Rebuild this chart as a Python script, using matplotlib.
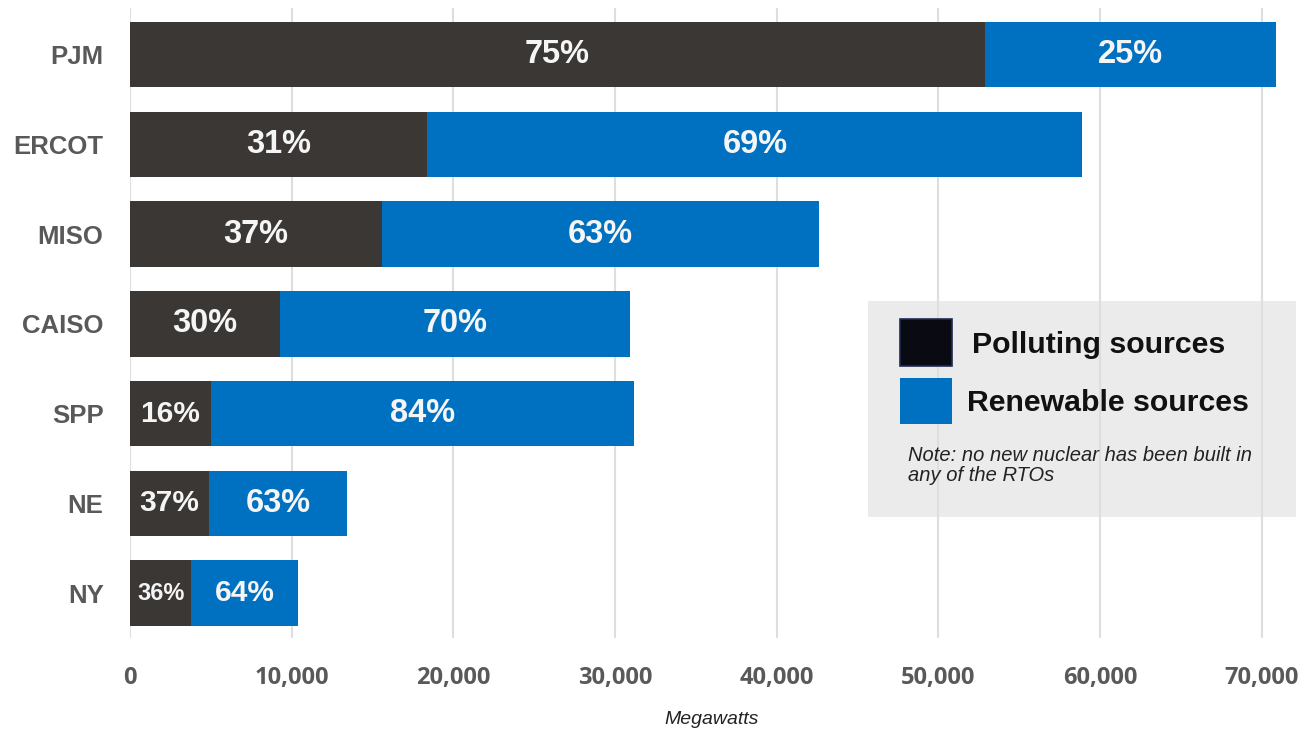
import matplotlib.pyplot as plt
import matplotlib.patches as patches
from matplotlib.ticker import FuncFormatter

# Data (megawatts).
regions = ['PJM', 'ERCOT', 'MISO', 'CAISO', 'SPP', 'NE', 'NY']
polluting = [52900, 18400, 15600, 9300, 5000, 4900, 3800]
renewable = [18000, 40500, 27000, 21600, 26200, 8500, 6600]
pct_polluting = ['75%', '31%', '37%', '30%', '16%', '37%', '36%']
pct_renewable = ['25%', '69%', '63%', '70%', '84%', '63%', '64%']
x_ticks = [0, 10000, 20000, 30000, 40000, 50000, 60000, 70000]

dark = '#3a3735'
blue = '#0070c0'
grey_text = '#595959'

fig = plt.figure(figsize=(13.01, 7.30), dpi=100)
ax = fig.add_axes([0.0999, 0.126, 0.8947, 0.863])

y = list(range(len(regions)))
ax.barh(y, polluting, height=0.73, color=dark, zorder=2)
ax.barh(y, renewable, left=polluting, height=0.73, color=blue, zorder=2)

# Percentage labels centred in each segment.
for i in y:
    p, r = polluting[i], renewable[i]
    size_p = 23.5 if p > 8000 else (17 if p < 4000 else 21.5)
    size_r = 23.5 if r > 8000 else 21.5
    ax.text(p / 2, i, pct_polluting[i], ha='center', va='center', color='#f5f5f5',
            fontsize=size_p, fontweight='bold', family='Liberation Sans', zorder=3)
    ax.text(p + r / 2, i, pct_renewable[i], ha='center', va='center', color='#f5f5f5',
            fontsize=size_r, fontweight='bold', family='Liberation Sans', zorder=3)

ax.set_ylim(6.5, -0.52)
ax.set_xlim(0, 72000)
ax.set_yticks(y)
ax.set_yticklabels(regions, fontsize=18.5, fontweight='bold', color=grey_text,
                   family='Liberation Sans')
ax.set_xticks(x_ticks)
ax.xaxis.set_major_formatter(FuncFormatter(lambda v, pos: f'{int(v):,}'))
for lab in ax.get_xticklabels():
    lab.set_fontsize(17)
    lab.set_fontweight('bold')
    lab.set_color(grey_text)
    lab.set_family('Open Sans')
ax.tick_params(axis='y', length=0, pad=19)
ax.tick_params(axis='x', length=0, pad=20)
ax.set_axisbelow(True)
ax.grid(axis='x', color='#dedede', linewidth=1.5)
ax.grid(axis='y', visible=False)
for s in ax.spines.values():
    s.set_visible(False)

ax.set_xlabel('Megawatts', fontsize=14, fontstyle='italic', color='#222222',
              family='Liberation Sans', labelpad=15)

# Legend box (grey panel behind the gridlines).
def ax_xy(px, py):
    return ((px - 130) / 1164.0, (638 - py) / 630.0)

x0, y0 = ax_xy(868, 517)
x1, y1 = ax_xy(1296, 301)
ax.add_patch(patches.Rectangle((x0, y0), x1 - x0, y1 - y0, transform=ax.transAxes,
                               facecolor='#ebebeb', edgecolor='none', zorder=0.2,
                               clip_on=False))
sx0, sy0 = ax_xy(900, 366)
sx1, sy1 = ax_xy(952, 319)
ax.add_patch(patches.Rectangle((sx0, sy0), sx1 - sx0, sy1 - sy0, transform=ax.transAxes,
                               facecolor='#0a0a12', edgecolor='#1f2a55', linewidth=1.2,
                               zorder=3))
sx0, sy0 = ax_xy(900, 424)
sx1, sy1 = ax_xy(952, 378)
ax.add_patch(patches.Rectangle((sx0, sy0), sx1 - sx0, sy1 - sy0, transform=ax.transAxes,
                               facecolor=blue, edgecolor='none', zorder=3))
tx, ty = ax_xy(972, 345)
ax.text(tx, ty, 'Polluting sources', transform=ax.transAxes, ha='left', va='center',
        fontsize=21.8, fontweight='bold', color='#111111', family='Liberation Sans', zorder=3)
tx, ty = ax_xy(967, 403)
ax.text(tx, ty, 'Renewable sources', transform=ax.transAxes, ha='left', va='center',
        fontsize=21.8, fontweight='bold', color='#111111', family='Liberation Sans', zorder=3)
tx, ty = ax_xy(908, 455)
ax.text(tx, ty, 'Note: no new nuclear has been built in', transform=ax.transAxes,
        ha='left', va='center', fontsize=14.5, fontstyle='italic', color='#222222',
        family='Liberation Sans', zorder=3)
tx, ty = ax_xy(908, 475)
ax.text(tx, ty, 'any of the RTOs', transform=ax.transAxes,
        ha='left', va='center', fontsize=14.5, fontstyle='italic', color='#222222',
        family='Liberation Sans', zorder=3)

fig.savefig('out.png', dpi=100, facecolor='white')
